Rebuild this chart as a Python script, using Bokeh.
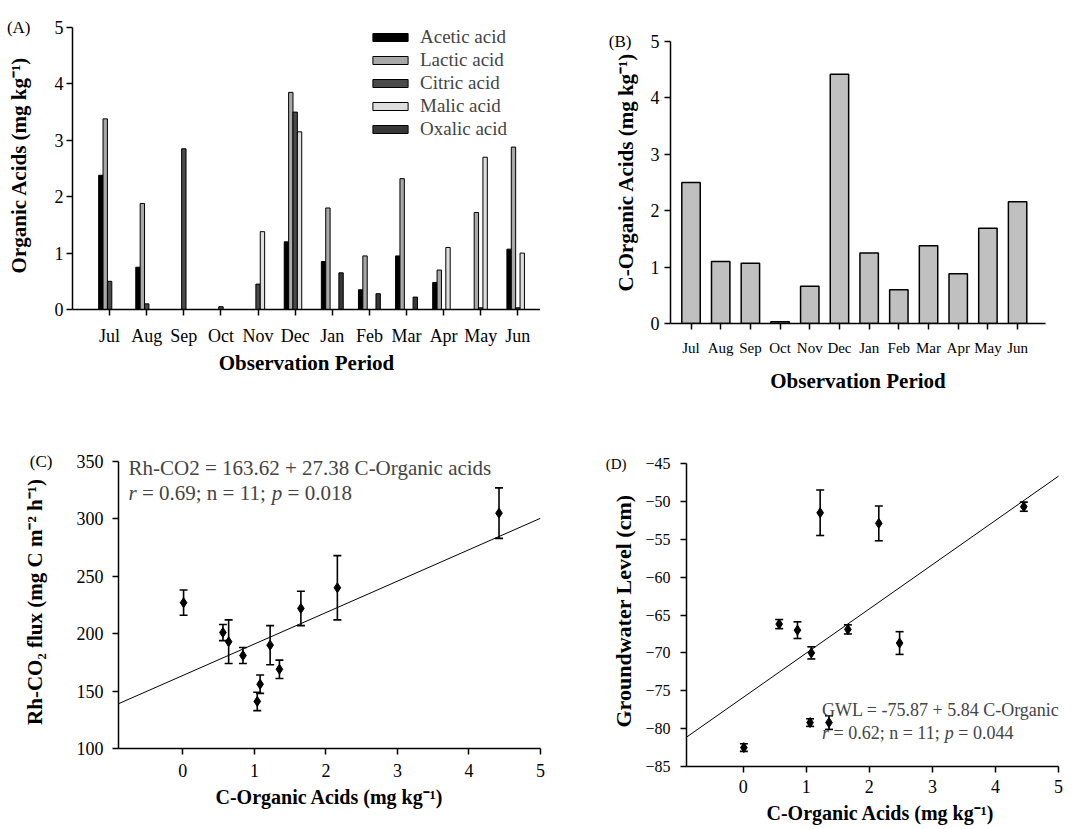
from bokeh.plotting import figure
from bokeh.layouts import column, row
from bokeh.models import (ColumnDataSource, FixedTicker, Legend, LegendItem, Label,
                          Whisker, TeeHead, Range1d, LinearAxis)
from bokeh.transform import dodge
from bokeh.embed import file_html
from bokeh.resources import INLINE

# ---------------- data ----------------
months = ["Jul", "Aug", "Sep", "Oct", "Nov", "Dec", "Jan", "Feb", "Mar", "Apr", "May", "Jun"]
acid_names = ["Acetic acid", "Lactic acid", "Citric acid", "Malic acid", "Oxalic acid"]
acetic = [2.38, 0.75, 0.0, 0.0, 0.0, 1.20, 0.85, 0.35, 0.95, 0.48, 0.0, 1.07]
lactic = [3.38, 1.88, 0.0, 0.0, 0.0, 3.85, 1.80, 0.95, 2.32, 0.70, 1.72, 2.88]
citric = [0.50, 0.10, 2.85, 0.05, 0.45, 3.50, 0.0, 0.0, 0.0, 0.0, 0.03, 0.03]
malic = [0.0, 0.0, 0.0, 0.0, 1.38, 3.15, 0.0, 0.0, 0.0, 1.10, 2.70, 1.00]
oxalic = [0.0, 0.0, 0.0, 0.0, 0.0, 0.0, 0.65, 0.28, 0.22, 0.0, 0.0, 0.0]
c_organic = [2.50, 1.10, 1.07, 0.03, 0.66, 4.42, 1.25, 0.60, 1.38, 0.88, 1.69, 2.16]

# (C) Rh-CO2 flux vs C-organic acids
c_x = [0.01, 0.56, 0.64, 0.84, 1.04, 1.08, 1.22, 1.35, 1.65, 2.16, 4.42]
c_rh = [227, 201, 193, 181, 141, 156, 190, 169, 222, 240, 305]
c_err = [11, 7, 19, 7, 8, 8, 17, 8, 15, 28, 22]
c_intercept, c_slope = 163.62, 27.38

# (D) groundwater level vs C-organic acids
d_x = [0.01, 0.57, 0.86, 1.06, 1.08, 1.22, 1.36, 1.66, 2.15, 2.48, 4.45]
d_gwl = [-82.5, -66.2, -67.0, -79.2, -70.0, -51.5, -79.2, -66.9, -52.9, -68.7, -50.7]
d_err = [0.5, 0.6, 1.1, 0.5, 0.8, 3.0, 0.9, 0.6, 2.3, 1.5, 0.6]
d_intercept, d_slope = -75.87, 5.84

FONT = "Liberation Serif"
acid_colors = ["#000000", "#a8a8a8", "#4a4a4a", "#dedede", "#383838"]


def style(p, tick_size="18px", title_size="21px"):
    p.outline_line_color = None
    p.xgrid.visible = False
    p.ygrid.visible = False
    for ax in p.axis:
        ax.axis_line_color = "black"
        ax.axis_line_width = 1.5
        ax.major_tick_line_color = "black"
        ax.major_tick_line_width = 1.5
        ax.major_tick_in = 0
        ax.major_tick_out = 6
        ax.minor_tick_line_color = None
        ax.major_label_text_font = FONT
        ax.major_label_text_font_size = tick_size
        ax.major_label_text_color = "black"
        ax.axis_label_text_font = FONT
        ax.axis_label_text_font_style = "bold"
        ax.axis_label_text_font_size = title_size
        ax.axis_label_text_color = "black"


def side_axis(p, tick, tag, title, tag_size, title_size, tag_standoff, title_standoff):
    """Outer left axis: carries the panel tag at the top tick and the y-axis title."""
    ax = LinearAxis(ticker=FixedTicker(ticks=[tick]), major_label_overrides={tick: tag},
                    axis_label=title)
    ax.axis_line_color = None
    ax.major_tick_line_color = None
    ax.minor_tick_line_color = None
    ax.major_tick_in = 0
    ax.major_tick_out = 0
    ax.major_label_text_font = FONT
    ax.major_label_text_font_size = tag_size
    ax.major_label_text_color = "black"
    ax.major_label_standoff = tag_standoff
    ax.axis_label_text_font = FONT
    ax.axis_label_text_font_style = "bold"
    ax.axis_label_text_font_size = title_size
    ax.axis_label_text_color = "black"
    ax.axis_label_standoff = title_standoff
    p.add_layout(ax, "left")


xs = list(range(1, len(months) + 1))

# ---------------- (A) ----------------
srcA = ColumnDataSource(dict(x=xs, acetic=acetic, lactic=lactic, citric=citric,
                             malic=malic, oxalic=oxalic))
pA = figure(width=540, height=386, x_range=Range1d(0, 12.61), y_range=Range1d(0, 5.124),
            output_backend="svg", toolbar_location=None,
            min_border_left=72, min_border_right=0, min_border_top=20, min_border_bottom=77)
bw = 0.118
keys = ["acetic", "lactic", "citric", "malic", "oxalic"]
items = []
for i, (k, name, col) in enumerate(zip(keys, acid_names, acid_colors)):
    r = pA.vbar(x=dodge("x", (i - 2) * bw, range=pA.x_range), top=k, width=bw, bottom=0,
                source=srcA, fill_color=col, line_color="black", line_width=1)
    items.append(LegendItem(label=name, renderers=[r]))
style(pA)
pA.yaxis.bounds = (0, 5)
pA.xaxis.ticker = FixedTicker(ticks=xs)
pA.xaxis.major_label_overrides = {x: m for x, m in zip(xs, months)}
pA.yaxis.ticker = FixedTicker(ticks=[0, 1, 2, 3, 4, 5])
pA.xaxis.axis_label = "Observation Period"
pA.xaxis.major_label_standoff = 10
pA.xaxis.axis_label_standoff = 2
pA.yaxis.major_label_standoff = 3
side_axis(pA, 5, "(A)", "Organic Acids (mg kg\u207b\u00b9)", "17px", "21px", 21, -27)
legA = Legend(items=items, location=(296, 169), glyph_width=44, glyph_height=10,
              label_height=23, spacing=0, padding=0, margin=0, label_standoff=8,
              label_text_font=FONT, label_text_font_size="19px",
              background_fill_alpha=0, border_line_alpha=0)
pA.add_layout(legA, "center")

# ---------------- (B) ----------------
srcB = ColumnDataSource(dict(x=xs, c=c_organic))
pB = figure(width=534, height=400, x_range=Range1d(0.309, 12.94), y_range=Range1d(0, 5.372),
            output_backend="svg", toolbar_location=None,
            min_border_left=130, min_border_right=29, min_border_top=20, min_border_bottom=77)
pB.vbar(x="x", top="c", width=0.62, bottom=0, source=srcB, fill_color="#c0c0c0",
        line_color="black", line_width=1.5)
style(pB)
pB.yaxis.bounds = (0, 5)
pB.xaxis.ticker = FixedTicker(ticks=xs)
pB.xaxis.major_label_overrides = {x: m for x, m in zip(xs, months)}
pB.xaxis.major_label_text_font_size = "15px"
pB.yaxis.ticker = FixedTicker(ticks=[0, 1, 2, 3, 4, 5])
pB.xaxis.axis_label = "Observation Period"
pB.xaxis.major_label_standoff = 10
pB.xaxis.axis_label_standoff = 10
pB.yaxis.major_label_standoff = 5
side_axis(pB, 5, "(B)", "C-Organic Acids (mg kg\u207b\u00b9)", "17px", "21px", 16, -32)

# ---------------- (C) ----------------
srcC = ColumnDataSource(dict(x=c_x, y=c_rh,
                             lo=[v - e for v, e in zip(c_rh, c_err)],
                             hi=[v + e for v, e in zip(c_rh, c_err)]))
xb = (-0.9, 5.0)
pC = figure(width=548, height=410, x_range=Range1d(*xb), y_range=Range1d(100, 355.2),
            output_backend="svg", toolbar_location=None,
            min_border_left=118, min_border_right=8, min_border_top=55, min_border_bottom=62)
pC.line(x=list(xb), y=[c_intercept + c_slope * v for v in xb], line_color="black", line_width=1)
pC.add_layout(Whisker(base="x", lower="lo", upper="hi", source=srcC, dimension="height",
                      line_color="black", line_width=1.6,
                      upper_head=TeeHead(size=8, line_color="black", line_width=1.6),
                      lower_head=TeeHead(size=8, line_color="black", line_width=1.6)))
pC.scatter(x="x", y="y", source=srcC, marker="diamond", size=10, fill_color="black",
           line_color="black")
style(pC, title_size="20px")
pC.yaxis.bounds = (100, 350)
pC.xaxis.ticker = FixedTicker(ticks=[0, 1, 2, 3, 4, 5])
pC.yaxis.ticker = FixedTicker(ticks=[100, 150, 200, 250, 300, 350])
pC.xaxis.axis_label = "C-Organic Acids (mg kg\u207b\u00b9)"
pC.xaxis.major_label_standoff = 9
pC.xaxis.axis_label_standoff = 6
pC.yaxis.major_label_standoff = 9
side_axis(pC, 350, "(C)", "Rh-CO\u2082 flux (mg C m\u207b\u00b2 h\u207b\u00b9)", "17px", "21px",
          21, -20)
fs = 21
pxu = 71.5  # px per x unit in panel C
x0 = -0.76
pC.add_layout(Label(x=x0, y=343.9, text="Rh-CO2 = 163.62 + 27.38 C-Organic acids",
                    text_font=FONT, text_font_size=f"{fs}px", text_baseline="middle"))
segs = [("r", "italic", 0.0), ("= 0.69; n = 11;", "normal", 0.639),
        ("p", "italic", 6.823), ("= 0.018", "normal", 7.573)]
for t, st, em in segs:
    pC.add_layout(Label(x=x0 + em * fs / pxu, y=322.4, text=t, text_font=FONT,
                        text_font_style=st, text_font_size=f"{fs}px", text_baseline="middle"))

# ---------------- (D) ----------------
srcD = ColumnDataSource(dict(x=d_x, y=d_gwl,
                             lo=[v - e for v, e in zip(d_gwl, d_err)],
                             hi=[v + e for v, e in zip(d_gwl, d_err)]))
pD = figure(width=526, height=428, x_range=Range1d(-0.9, 5.254), y_range=Range1d(-85, -43.94),
            output_backend="svg", toolbar_location=None,
            min_border_left=138, min_border_right=0, min_border_top=55, min_border_bottom=62)
pD.line(x=list(xb), y=[d_intercept + d_slope * v for v in xb], line_color="black", line_width=1)
pD.add_layout(Whisker(base="x", lower="lo", upper="hi", source=srcD, dimension="height",
                      line_color="black", line_width=1.6,
                      upper_head=TeeHead(size=8, line_color="black", line_width=1.6),
                      lower_head=TeeHead(size=8, line_color="black", line_width=1.6)))
pD.scatter(x="x", y="y", source=srcD, marker="diamond", size=10, fill_color="black",
           line_color="black")
style(pD, title_size="20px")
pD.xaxis.bounds = xb
pD.yaxis.bounds = (-85, -45)
pD.xaxis.ticker = FixedTicker(ticks=[0, 1, 2, 3, 4, 5])
pD.yaxis.ticker = FixedTicker(ticks=[-85, -80, -75, -70, -65, -60, -55, -50, -45])
pD.yaxis.major_label_text_font_size = "16px"
pD.xaxis.axis_label = "C-Organic Acids (mg kg\u207b\u00b9)"
pD.xaxis.major_label_standoff = 7
pD.xaxis.axis_label_standoff = 6
pD.yaxis.major_label_standoff = 10
side_axis(pD, -45, "(D)", "Groundwater Level (cm)", "15px", "22px", 16, -33)
fsd = 18
pxd = 63.05
xd0 = 1.25
pD.add_layout(Label(x=xd0, y=-77.6, text="GWL = -75.87 + 5.84 C-Organic",
                    text_font=FONT, text_font_size=f"{fsd}px", text_baseline="middle"))
segsD = [("r", "italic", 0.0), ("= 0.62; n = 11;", "normal", 0.639),
         ("p", "italic", 6.823), ("= 0.044", "normal", 7.573)]
for t, st, em in segsD:
    pD.add_layout(Label(x=xd0 + em * fsd / pxd, y=-80.6, text=t, text_font=FONT,
                        text_font_style=st, text_font_size=f"{fsd}px", text_baseline="middle"))

layout = column(row(pA, pB), row(pC, pD))
open("out.html", "w").write(file_html(layout, INLINE))
